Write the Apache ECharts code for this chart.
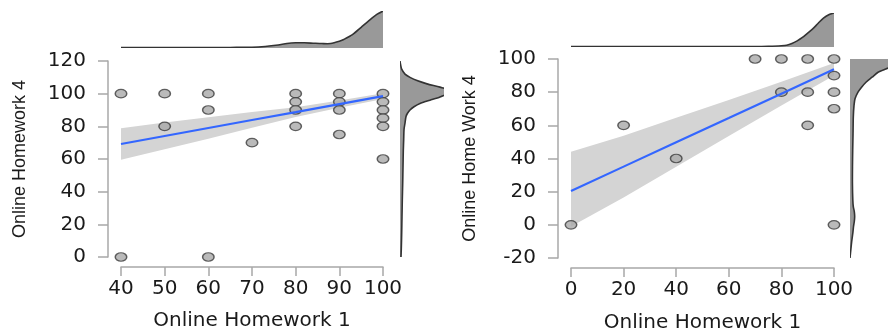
<!DOCTYPE html>
<html>
<head>
<meta charset="utf-8">
<script src="https://cdn.jsdelivr.net/npm/echarts@6/dist/echarts.min.js"></script>
<style>
  html, body { margin: 0; padding: 0; background: #fff; }
  #main { width: 888px; height: 329px; }
</style>
</head>
<body>
<div id="main"></div>
<script>
// left panel: Online Homework 1 vs Online Homework 4
var hw1Left = [40, 50, 60, 80, 90, 100, 80, 90, 100, 60, 80, 90, 100, 100, 50, 80, 100, 90, 70, 100, 40, 60];
var hw4Left = [100, 100, 100, 100, 100, 100, 95, 95, 95, 90, 90, 90, 90, 85, 80, 80, 80, 75, 70, 60, 0, 0];
var fitXLeft = [40, 50, 60, 70, 80, 90, 100];
var fitLeft = [69.2, 74.1, 79.0, 83.9, 88.7, 93.6, 98.5];
var lowLeft = [59.5, 65.9, 72.4, 79.1, 85.7, 91.4, 96.7];
var highLeft = [78.9, 82.3, 85.6, 88.7, 91.7, 95.8, 100.3];
// marginal densities (relative height)
var topXLeft = [40, 50, 60, 65, 70, 73, 76, 78, 80, 82, 84, 86, 88, 90, 91, 93, 95, 97, 98.5, 100];
var topDLeft = [0.01, 0.01, 0.01, 0.015, 0.02, 0.04, 0.08, 0.12, 0.14, 0.14, 0.13, 0.12, 0.12, 0.18, 0.23, 0.36, 0.56, 0.76, 0.9, 1.0];
var sideYLeft = [0, 5, 15, 25, 35, 45, 55, 65, 72, 78, 82, 86, 88, 90, 92, 94, 96, 98, 100, 102, 104, 106, 108, 110, 112, 115, 118, 120];
var sideDLeft = [0.02, 0.026, 0.034, 0.04, 0.046, 0.054, 0.06, 0.066, 0.074, 0.08, 0.1, 0.12, 0.15, 0.2, 0.28, 0.4, 0.6, 0.8, 0.94, 1.0, 0.8, 0.54, 0.34, 0.2, 0.1, 0.034, 0.01, 0];

// right panel: Online Homework 1 vs Online Home Work 4
var hw1Right = [70, 80, 90, 100, 100, 80, 90, 100, 100, 20, 90, 40, 0, 100];
var hw4Right = [100, 100, 100, 100, 90, 80, 80, 80, 70, 60, 60, 40, 0, 0];
var fitXRight = [0, 20, 40, 60, 80, 100];
var fitRight = [20.4, 35.1, 49.8, 64.4, 79.1, 93.8];
var lowRight = [-1, 16.5, 35.1, 53.5, 71.9, 90.0];
var highRight = [44, 53.7, 64.5, 75.3, 86.3, 97.6];
var topXRight = [0, 20, 40, 60, 70, 75, 80, 82, 84, 86, 88, 90, 92, 94, 96, 98, 100];
var topDRight = [0.01, 0.01, 0.01, 0.01, 0.012, 0.02, 0.035, 0.05, 0.1, 0.18, 0.28, 0.41, 0.54, 0.7, 0.85, 0.95, 1.0];
var sideYRight = [-20, -15, -10, -5, -1, 2, 5, 8, 11, 15, 25, 35, 45, 55, 65, 72, 76, 80, 83, 86, 89, 92, 94, 96, 98, 100];
var sideDRight = [0, 0.015, 0.031, 0.051, 0.064, 0.078, 0.085, 0.078, 0.06, 0.051, 0.044, 0.045, 0.049, 0.055, 0.06, 0.073, 0.091, 0.145, 0.21, 0.29, 0.4, 0.51, 0.65, 0.8, 0.91, 1.0];

var ticksYLeft = [0, 120, 20];
var ticksXLeft = [40, 100, 10];
var ticksYRight = [-20, 100, 20];
var ticksXRight = [0, 100, 20];

var FONT = 'DejaVu Sans';
var axisGray = '#a8a8a8';

function pairs(xs, ys) {
  return xs.map(function (x, i) { return [x, ys[i]]; });
}

function mainX(grid, t, gap) {
  return {
    type: 'value', gridIndex: grid, min: t[0], max: t[1], interval: t[2], offset: 10,
    name: 'Online Homework 1', nameLocation: 'middle', nameGap: gap,
    nameTextStyle: { fontFamily: FONT, fontSize: 20, color: '#1a1a1a' },
    axisLine: { onZero: false, lineStyle: { color: axisGray, width: 1.5 } },
    axisTick: { length: 9, lineStyle: { color: axisGray, width: 1.5 } },
    axisLabel: { fontFamily: FONT, fontSize: 20, color: '#1a1a1a', margin: 12 },
    splitLine: { show: false }
  };
}

function mainY(grid, t, name) {
  return {
    type: 'value', gridIndex: grid, min: t[0], max: t[1], interval: t[2], offset: 13,
    name: name, nameLocation: 'middle', nameGap: 79,
    nameTextStyle: { fontFamily: 'Liberation Sans', fontSize: 18, color: '#1a1a1a' },
    axisLine: { onZero: false, lineStyle: { color: axisGray, width: 1.5 } },
    axisTick: { length: 10, lineStyle: { color: axisGray, width: 1.5 } },
    axisLabel: { fontFamily: FONT, fontSize: 20, color: '#1a1a1a', margin: 22 },
    splitLine: { show: false }
  };
}

function hiddenAxis(grid, min, max) {
  return { type: 'value', gridIndex: grid, min: min, max: max, show: false, splitLine: { show: false } };
}

function grid(left, top, width, height) {
  return { left: left, top: top, width: width, height: height, containLabel: false, outerBoundsMode: 'none' };
}

// confidence band as a polygon: upper edge left to right, lower edge back
function bandSeries(ax, xs, lo, hi) {
  return {
    type: 'custom', xAxisIndex: ax, yAxisIndex: ax, silent: true,
    data: [[xs[0], lo[0]]],
    renderItem: function (params, api) {
      var up = xs.map(function (x, i) { return api.coord([x, hi[i]]); });
      var down = xs.map(function (x, i) { return api.coord([x, lo[i]]); }).reverse();
      return { type: 'polygon', shape: { points: up.concat(down) }, style: { fill: '#d4d4d4' } };
    }
  };
}

function fitSeries(ax, xs, ys) {
  return { type: 'line', xAxisIndex: ax, yAxisIndex: ax, data: pairs(xs, ys), showSymbol: false,
    lineStyle: { color: '#3366ff', width: 2.2 } };
}

function pointSeries(ax, xs, ys) {
  return { type: 'scatter', xAxisIndex: ax, yAxisIndex: ax, data: pairs(xs, ys), clip: false,
    symbol: 'circle', symbolSize: [11.5, 8.5],
    itemStyle: { color: '#a9a9a9', borderColor: '#3c3c3c', borderWidth: 1.3 } };
}

// density: pos = value along the main axis, dens = relative height
function densitySeries(ax, pos, dens, vertical) {
  var toPt = function (p, d) { return vertical ? [d, p] : [p, d]; };
  return {
    type: 'custom', xAxisIndex: ax, yAxisIndex: ax, clip: true, silent: true,
    data: [toPt(pos[0], dens[0])],
    renderItem: function (params, api) {
      var curve = pos.map(function (p, i) { return api.coord(toPt(p, dens[i])); });
      var b0 = api.coord(toPt(pos[0], 0));
      var b1 = api.coord(toPt(pos[pos.length - 1], 0));
      return {
        type: 'group',
        children: [
          { type: 'polygon', shape: { points: [b0].concat(curve, [b1]) }, style: { fill: '#999999' } },
          { type: 'polyline', shape: { points: curve, smooth: 0.25 },
            style: { stroke: '#333333', lineWidth: 1.6, fill: null } }
        ]
      };
    }
  };
}

var chart = echarts.init(document.getElementById('main'), null, { renderer: 'canvas' });

var option = {
  animation: false,
  backgroundColor: '#ffffff',
  grid: [
    grid(121, 61, 262, 196),
    grid(121, 11, 262, 37),
    grid(400, 61, 44, 196),
    grid(571, 59, 263, 199),
    grid(571, 13, 263, 34),
    grid(850, 59, 38, 199)
  ],
  xAxis: [
    mainX(0, ticksXLeft, 44),
    hiddenAxis(1, 40, 100),
    hiddenAxis(2, 0, 0.88),
    mainX(3, ticksXRight, 45),
    hiddenAxis(4, 0, 100),
    hiddenAxis(5, 0, 0.69)
  ],
  yAxis: [
    mainY(0, ticksYLeft, 'Online Homework 4'),
    hiddenAxis(1, 0, 1),
    hiddenAxis(2, 0, 120),
    mainY(3, ticksYRight, 'Online Home Work 4'),
    hiddenAxis(4, 0, 1),
    hiddenAxis(5, -20, 100)
  ],
  series: [
    bandSeries(0, fitXLeft, lowLeft, highLeft),
    fitSeries(0, fitXLeft, fitLeft),
    pointSeries(0, hw1Left, hw4Left),
    densitySeries(1, topXLeft, topDLeft, false),
    densitySeries(2, sideYLeft, sideDLeft, true),
    bandSeries(3, fitXRight, lowRight, highRight),
    fitSeries(3, fitXRight, fitRight),
    pointSeries(3, hw1Right, hw4Right),
    densitySeries(4, topXRight, topDRight, false),
    densitySeries(5, sideYRight, sideDRight, true)
  ]
};

chart.setOption(option);
</script>
</body>
</html>
